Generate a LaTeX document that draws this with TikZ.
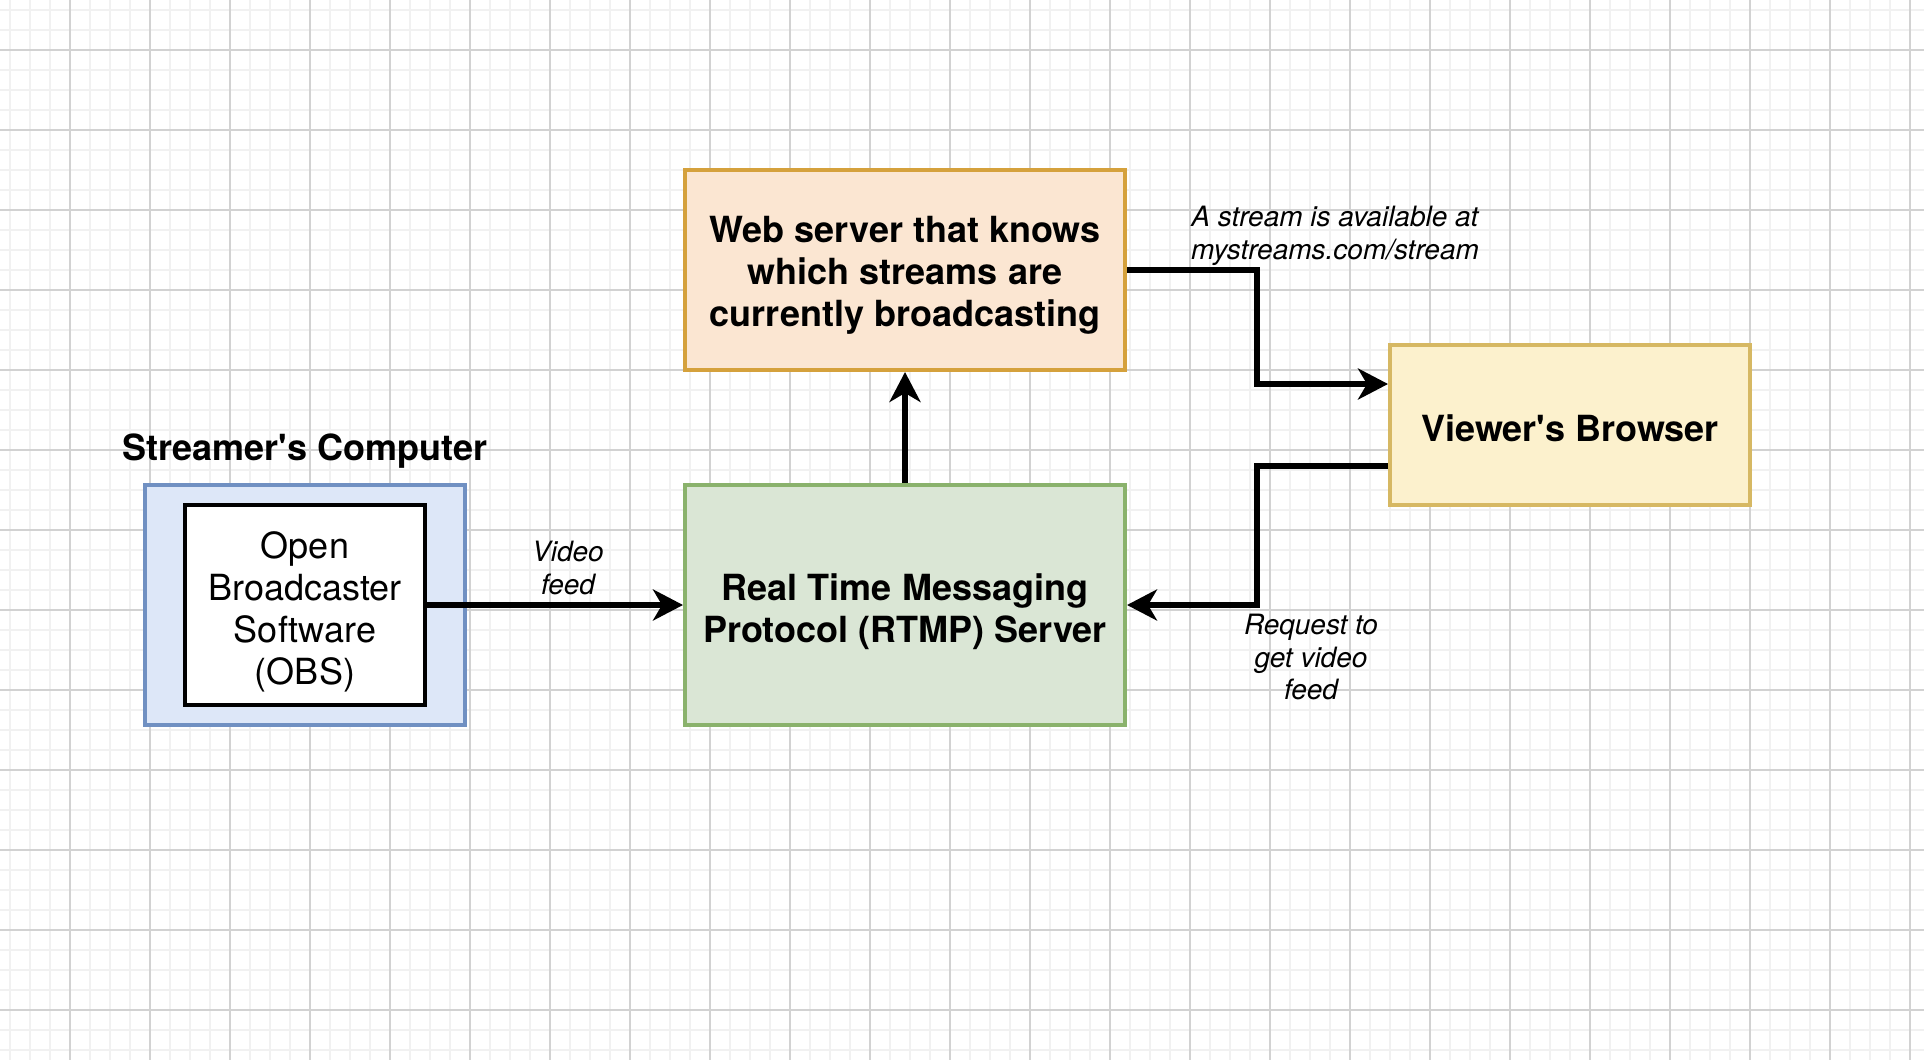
\documentclass[tikz,border=0pt]{standalone}
\usepackage{fontspec}
\setmainfont{TeX Gyre Heros}
\usetikzlibrary{arrows.meta,calc}
\definecolor{gridminor}{HTML}{F1F1F1}
\definecolor{gridmajor}{HTML}{D2D2D2}
\definecolor{orfill}{HTML}{FBE6D2}
\definecolor{ordraw}{HTML}{D5A13C}
\definecolor{yefill}{HTML}{FCF1CD}
\definecolor{yedraw}{HTML}{D6B863}
\definecolor{grfill}{HTML}{DAE6D5}
\definecolor{grdraw}{HTML}{8AB26C}
\definecolor{blfill}{HTML}{DDE7F8}
\definecolor{bldraw}{HTML}{7090C2}
\begin{document}
\begin{tikzpicture}[x=1pt,y=-1pt,
  minorline/.style={draw=gridminor,line width=2pt},
  majorline/.style={draw=gridmajor,line width=1.5pt},
  box/.style={draw,line width=4pt,inner sep=0pt},
  boldtext/.style={inner sep=0pt,align=center,font=\fontsize{36}{42}\selectfont\bfseries},
  plaintext/.style={inner sep=0pt,align=center,font=\fontsize{36}{42}\selectfont},
  lbl/.style={inner sep=0pt,align=center,font=\fontsize{28}{32.5}\selectfont\itshape},
  arr/.style={line width=6pt,-{Stealth[length=30pt,width=31pt,inset=9pt]}}]
\useasboundingbox (0,0) rectangle (1924,1060);
\fill[white] (0,0) rectangle (1924,1060);
% grid
\foreach \x in {10,30,...,1910} \draw[minorline] (\x,0) -- (\x,1060);
\foreach \y in {10,30,...,1050} \draw[minorline] (0,\y) -- (1924,\y);
\foreach \x in {70,150,...,1910} \draw[majorline] (\x,0) -- (\x,1060);
\foreach \y in {50,130,...,1010} \draw[majorline] (0,\y) -- (1924,\y);
% boxes
\node[box,draw=ordraw,fill=orfill,minimum width=440pt,minimum height=200pt] (web) at (905,270) {};
\node[box,draw=grdraw,fill=grfill,minimum width=440pt,minimum height=240pt] (rtmp) at (905,605) {};
\node[box,draw=yedraw,fill=yefill,minimum width=360pt,minimum height=160pt] (viewer) at (1570,425) {};
\node[box,draw=bldraw,fill=blfill,minimum width=320pt,minimum height=240pt] (comp) at (305,605) {};
\node[box,draw=black,fill=white,minimum width=240pt,minimum height=200pt] (obs) at (305,605) {};
% box texts
\node[boldtext] (webtxt) at (905,275) {Web server that knows\\which streams are\\currently broadcasting};
\node[boldtext] (rtmptxt) at (905,612) {Real Time Messaging\\Protocol (RTMP) Server};
\node[boldtext] (viewertxt) at (1570,428) {Viewer{\textquotesingle}s Browser};
\node[plaintext] (obstxt) at (305,612) {Open\\Broadcaster\\Software\\(OBS)};
\node[boldtext] (sc) at (305,451) {Streamer{\textquotesingle}s Computer};
% connectors
\coordinate (mid) at (1257,0);
\coordinate (vin) at ($(viewer.north west)!0.25!(viewer.south west)$);
\coordinate (vout) at ($(viewer.north west)!0.75!(viewer.south west)$);
\draw[arr] (obs.east) -- (rtmp.west);
\draw[arr] (rtmp.north) -- (web.south);
\draw[arr] (web.east) -| (mid |- vin) -- (vin);
\draw[arr] (vout) -| (mid |- rtmp.east) -- (rtmp.east);
% labels
\node[lbl] (vf) at (568,568) {Video\\feed};
\node[lbl] (avail) at (1335,236) {A stream is available at\\mystreams.com/stream};
\node[lbl] (req) at (1311,657) {Request to\\get video\\feed};
\end{tikzpicture}
\end{document}
